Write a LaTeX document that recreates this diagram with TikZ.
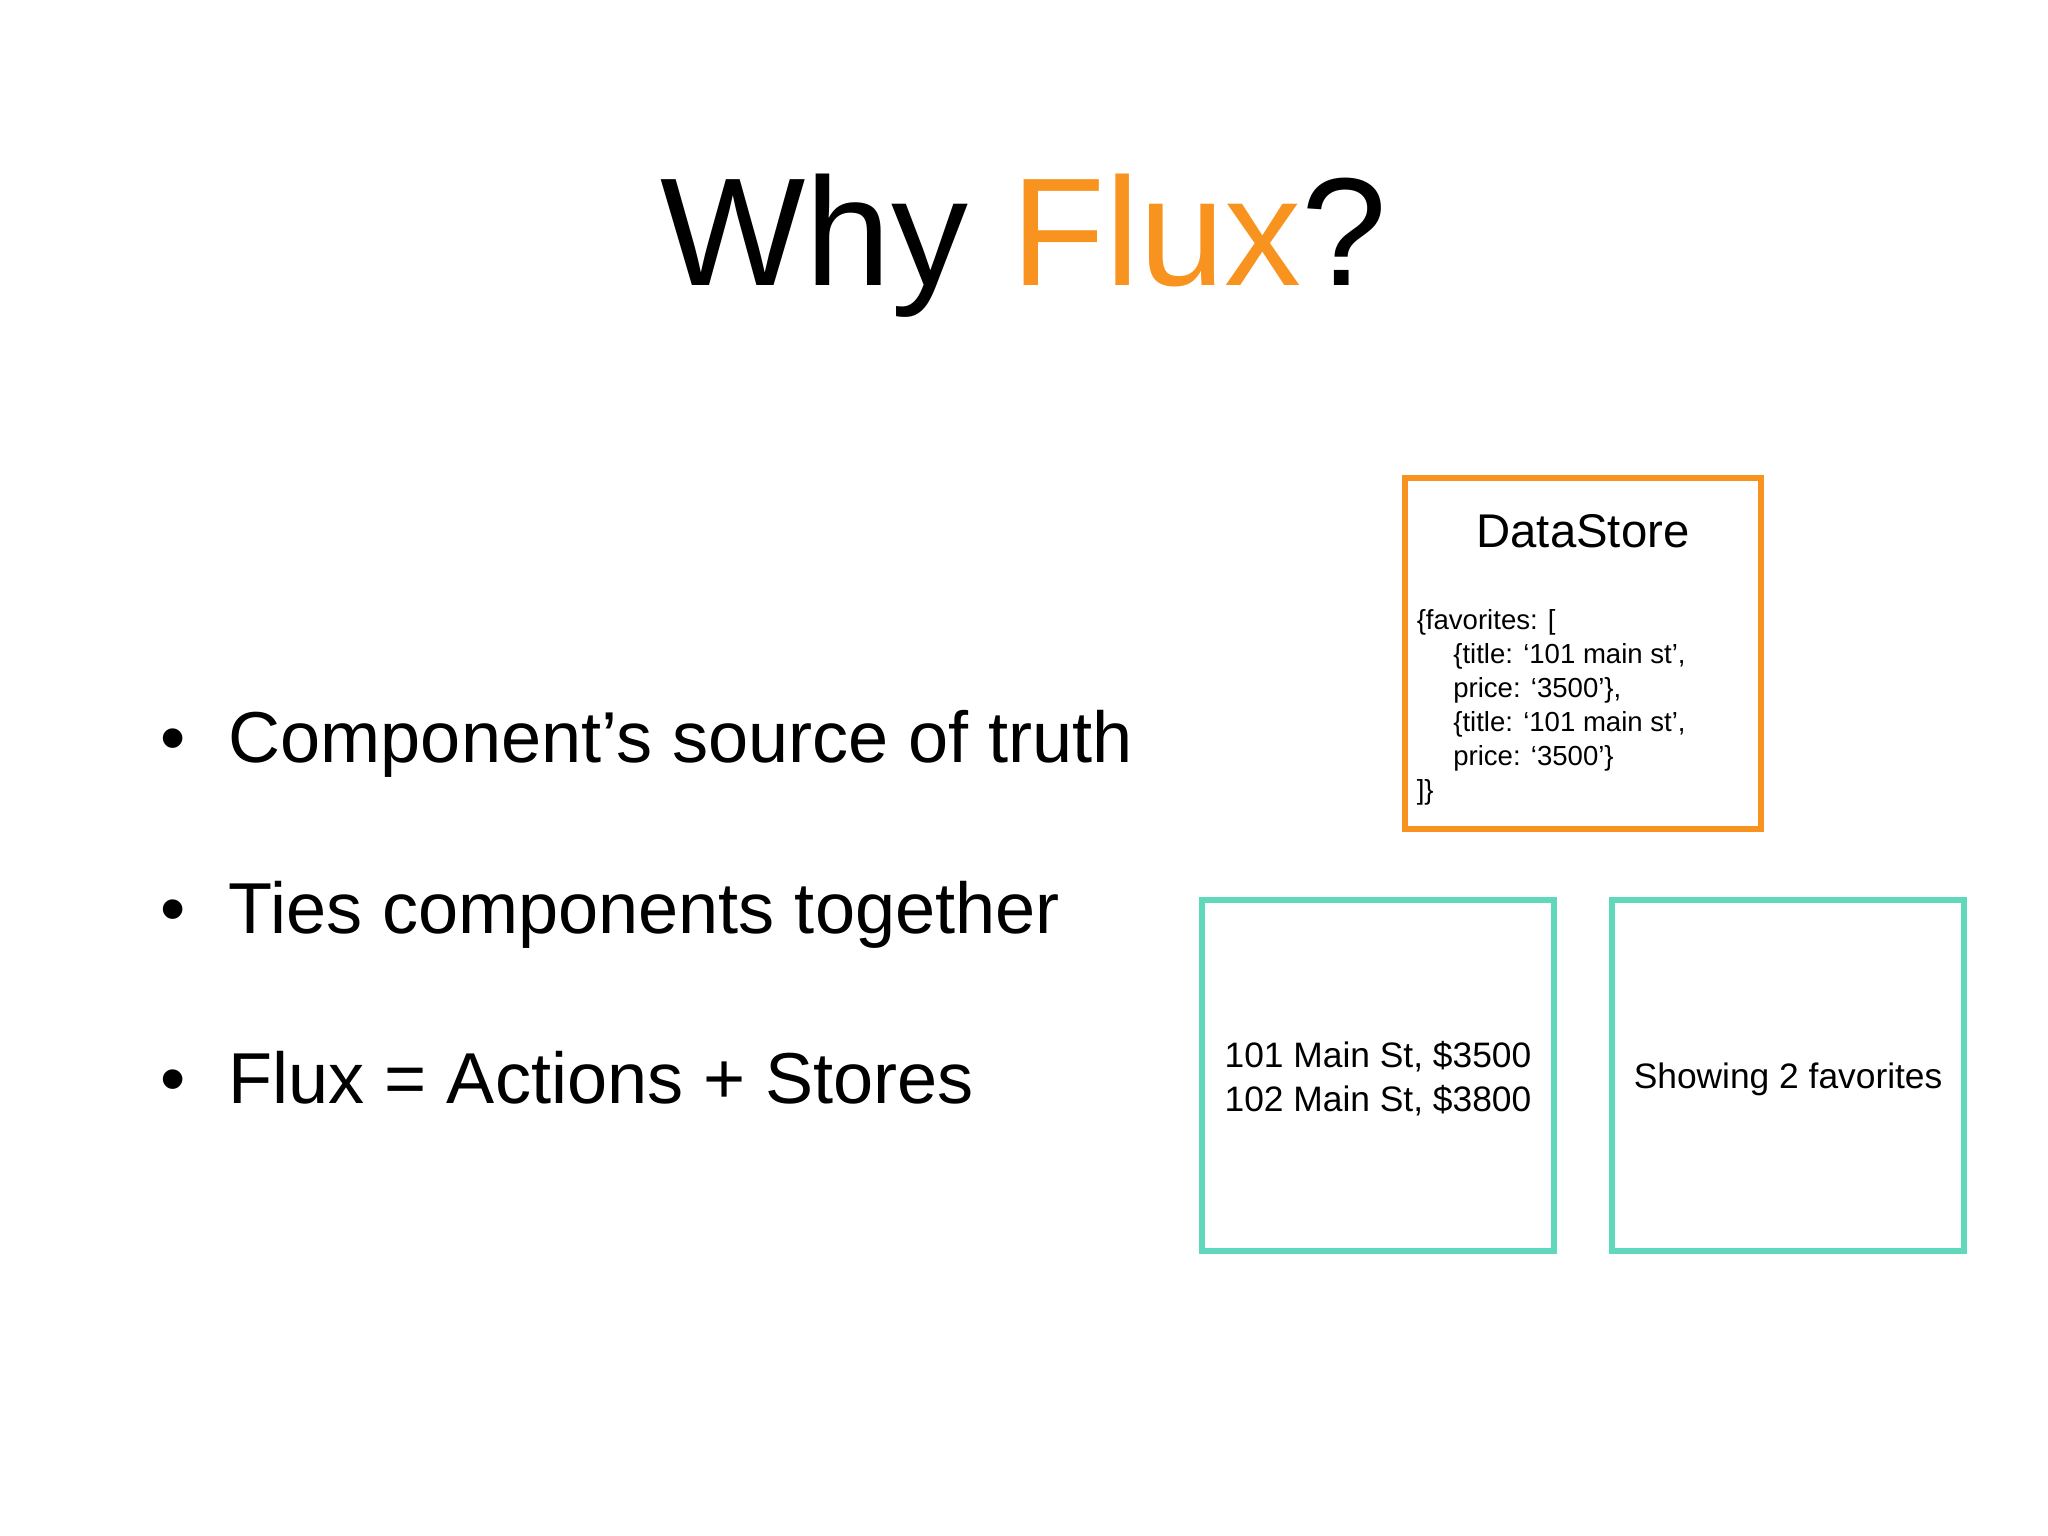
\documentclass[tikz,border=0pt]{standalone}
\usepackage{fontspec}
\setmainfont{Liberation Sans}
\definecolor{fluxorange}{HTML}{F7931E}
\definecolor{teal}{HTML}{5FD8BC}
\begin{document}
\begin{tikzpicture}[x=0.01cm,y=-0.01cm,
  box/.style={draw,line width=1.3pt,inner sep=0pt},
  bul/.style={anchor=base west,inner sep=0pt,font=\fontsize{15.7}{18}\selectfont}]
\useasboundingbox (0,0) rectangle (1568,1176);
\node (title) at (784,188) {\fontsize{33.5}{36}\selectfont Why \textcolor{fluxorange}{Flux}?};
\node[bul] (b1) at (122,584) {\textbullet\hspace{0.33cm}Component’s source of truth};
\node[bul] (b2) at (122,715) {\textbullet\hspace{0.33cm}Ties components together};
\node[bul] (b3) at (122,845) {\textbullet\hspace{0.33cm}Flux = Actions + Stores};
\draw[box,fluxorange] (1076,366) rectangle (1348,635);
\node (ds) at (1212,407) {\fontsize{10.3}{12}\selectfont DataStore};
\node[anchor=north west,inner sep=0pt,align=left,font=\fontsize{6.0}{7.4}\selectfont] (code) at (1084,466)
 {\{favorites: [\\ \hspace{0.28cm}\{title: ‘101 main st’,\\ \hspace{0.28cm}price: ‘3500’\},\\
  \hspace{0.28cm}\{title: ‘101 main st’,\\ \hspace{0.28cm}price: ‘3500’\}\\ ]\}};
\draw[box,teal] (920,689) rectangle (1190,958);
\draw[box,teal] (1234,689) rectangle (1504,958);
\node[align=center,font=\fontsize{7.7}{9.6}\selectfont] (l1) at (1055,826) {101 Main St, \$3500\\102 Main St, \$3800};
\node[font=\fontsize{7.7}{9.6}\selectfont] (l2) at (1369,826) {Showing 2 favorites};
\end{tikzpicture}
\end{document}
